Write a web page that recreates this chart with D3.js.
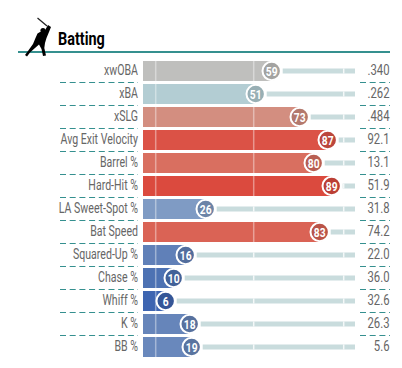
<!DOCTYPE html>
<html>
<head>
<meta charset="utf-8">
<script src="https://cdn.jsdelivr.net/npm/d3@7"></script>
<style>
  html, body { margin: 0; padding: 0; background: #fff; }
  svg { display: block; }
  text { font-family: Roboto, sans-serif; }
</style>
</head>
<body>
<div id="chart"></div>
<script>
const title = 'Batting';
const metrics = ['xwOBA', 'xBA', 'xSLG', 'Avg Exit Velocity', 'Barrel %', 'Hard-Hit %', 'LA Sweet-Spot %',
  'Bat Speed', 'Squared-Up %', 'Chase %', 'Whiff %', 'K %', 'BB %'];
const percentiles = [59, 51, 73, 87, 80, 89, 26, 83, 16, 10, 6, 18, 19];
const rawValues = ['.340', '.262', '.484', '92.1', '13.1', '51.9', '31.8', '74.2', '22.0', '36.0', '32.6', '26.3', '5.6'];
const tickPcts = [1, 50, 95];

const colorStops = [5, 10, 16, 26, 51, 59, 73, 80, 89];
const colorRange = ['#3a62b0', '#4d72b3', '#6080b8', '#7f9bc4', '#b3cdd3', '#bfbfbd', '#d38e80', '#d96f60', '#db4a3e'];

const width = 402, height = 368;
const barLeft = 143, teal = '#35908f';

const svg = d3.select('#chart').append('svg')
  .attr('width', width)
  .attr('height', height);

const x = d3.scaleLinear().domain([0, 100]).range([153.7, 353.7]);
const y = d3.scaleBand().domain(metrics).range([61, 357]).paddingInner(3 / 23).paddingOuter(0);
const color = d3.scaleLinear().domain(colorStops).range(colorRange);
const rows = metrics.map((m, i) => ({ m, pct: percentiles[i], raw: rawValues[i] }));

// header
svg.append('rect').attr('x', 18).attr('y', 51).attr('width', 372).attr('height', 2).attr('fill', teal);
svg.append('text')
  .attr('transform', 'translate(58,45) scale(.76,1)')
  .attr('font-size', 19).attr('font-weight', 700).attr('fill', '#000')
  .text(title);

// batter icon
const icon = svg.append('g');
icon.append('line').attr('x1', 37.5).attr('y1', 18).attr('x2', 47).attr('y2', 26)
  .attr('stroke', '#222').attr('stroke-width', 1.2);
icon.append('circle').attr('cx', 43).attr('cy', 30.5).attr('r', 2.6).attr('fill', '#000');
icon.append('path').attr('fill', '#000')
  .attr('d', 'M48,25 L51,27 L49,32 L46.5,38 L45,43 L44.3,48 L46,55.5 L43,56 L41.5,49 L39,44.5 L35,48 L30,52.5 L27,56.5 L25,55 L28,51 L33,44 L35.5,38 L37.5,33.5 L40,32 L44,32 Z');

const row = svg.selectAll('.row').data(rows).enter().append('g')
  .attr('class', 'row')
  .attr('transform', d => `translate(0,${y(d.m)})`);

const h = y.bandwidth();

// track
row.append('rect')
  .attr('x', d => x(d.pct) + 11)
  .attr('y', h / 2 - 2.5)
  .attr('width', d => Math.max(0, 355 - x(d.pct) - 11))
  .attr('height', 5)
  .attr('fill', '#c9dcdd');

// bar
row.append('rect')
  .attr('x', barLeft)
  .attr('width', d => x(d.pct) - barLeft)
  .attr('height', h)
  .attr('fill', d => color(d.pct));

// percentile ticks
tickPcts.forEach(t => {
  row.append('rect')
    .attr('x', x(t) - 0.75)
    .attr('width', 1.5)
    .attr('y', d => x(t) < x(d.pct) ? 0 : h / 2 - 2.5)
    .attr('height', d => x(t) < x(d.pct) ? h : 5)
    .attr('fill', '#fff')
    .attr('fill-opacity', d => x(t) < x(d.pct) ? 0.4 : 0.8);
});

// percentile circle
row.append('circle')
  .attr('cx', d => x(d.pct))
  .attr('cy', h / 2)
  .attr('r', 9.2)
  .attr('fill', d => d3.color(color(d.pct)).darker(0.45))
  .attr('stroke', '#fff')
  .attr('stroke-width', 2);

row.append('text')
  .attr('transform', d => `translate(${x(d.pct)},${h / 2 + 4.5}) scale(.8,1)`)
  .attr('text-anchor', 'middle')
  .attr('font-size', 12.8).attr('font-weight', 700).attr('fill', '#fff')
  .text(d => d.pct);

// labels
row.append('text')
  .attr('transform', `translate(138,${h / 2 + 3.9}) scale(.73,1)`)
  .attr('text-anchor', 'end')
  .attr('font-size', 14.5).attr('fill', '#666')
  .text(d => d.m);

row.append('text')
  .attr('transform', `translate(389.5,${h / 2 + 3.9}) scale(.78,1)`)
  .attr('text-anchor', 'end')
  .attr('font-size', 14.5).attr('fill', '#666')
  .text(d => d.raw);

// dashed row separators
const seps = rows.slice(0, -1);
[[60, 138], [360, 390]].forEach(([a, b]) => {
  svg.selectAll(null).data(seps).enter().append('line')
    .attr('x1', a).attr('x2', b)
    .attr('y1', d => y(d.m) + h + 1.5)
    .attr('y2', d => y(d.m) + h + 1.5)
    .attr('stroke', teal).attr('stroke-width', 1)
    .attr('stroke-dasharray', '6 3.7');
});
</script>
</body>
</html>
